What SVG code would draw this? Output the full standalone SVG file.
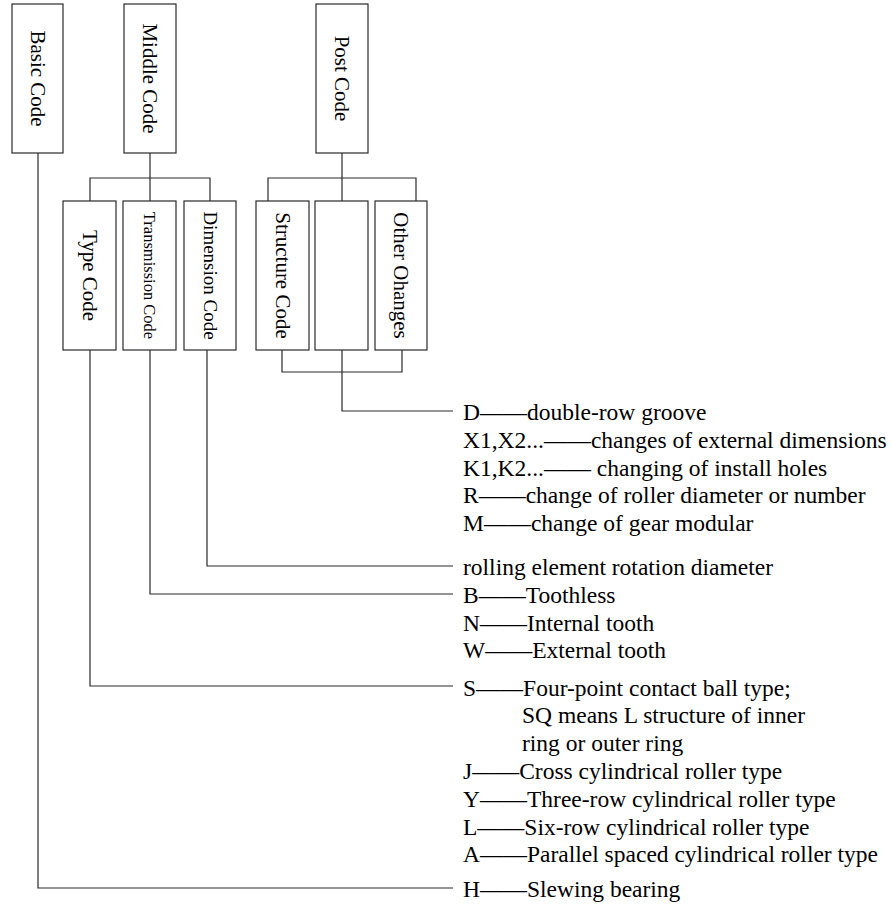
<svg xmlns="http://www.w3.org/2000/svg" width="892" height="904" viewBox="0 0 892 904">
<style>
.box{fill:#fff;stroke:#2a2a2a;stroke-width:1.2}
.ln{fill:none;stroke:#2a2a2a;stroke-width:1.2}
.bl{font-family:"Liberation Serif","Times New Roman",serif;font-size:21px;fill:#000;text-anchor:middle}
.tx{font-family:"Liberation Serif","Times New Roman",serif;font-size:23.5px;fill:#000}
</style>
<rect width="892" height="904" fill="#fff"/>
<g id="connectors">
<path class="ln" d="M38 153V888H453"/>
<path class="ln" d="M150 153V201M90 201V178H210V201"/>
<path class="ln" d="M342 153V201M268 201V178H416V201"/>
<path class="ln" d="M282 350V372H402V350"/>
<path class="ln" d="M342 350V411H453"/>
<path class="ln" d="M207 350V566H453"/>
<path class="ln" d="M150 350V594H453"/>
<path class="ln" d="M90 350V686H453"/>
</g>
<g id="basic-code"><rect class="box" x="12" y="4" width="51" height="149"/><text class="bl" transform="translate(37.5 78.5) rotate(90)" y="7">Basic Code</text></g>
<g id="middle-code"><rect class="box" x="124" y="4" width="52" height="149"/><text class="bl" transform="translate(150 78.5) rotate(90)" y="7">Middle Code</text></g>
<g id="post-code"><rect class="box" x="316" y="4" width="52" height="149"/><text class="bl" transform="translate(342 78.5) rotate(90)" y="7">Post Code</text></g>
<g id="type-code"><rect class="box" x="63" y="201" width="53" height="149"/><text class="bl" transform="translate(89.5 275.5) rotate(90)" y="7">Type Code</text></g>
<g id="transmission-code"><rect class="box" x="123" y="201" width="53" height="149"/><text class="bl" style="font-size:16.5px" transform="translate(149.5 275.5) rotate(90)" y="5.5">Transmission Code</text></g>
<g id="dimension-code"><rect class="box" x="184" y="201" width="52" height="149"/><text class="bl" style="font-size:19px" transform="translate(210 275.5) rotate(90)" y="6.5">Dimension Code</text></g>
<g id="structure-code"><rect class="box" x="256" y="201" width="53" height="149"/><text class="bl" transform="translate(282.5 275.5) rotate(90)" y="7">Structure Code</text></g>
<g id="blank-code"><rect class="box" x="315" y="201" width="53" height="149"/></g>
<g id="other-changes"><rect class="box" x="375" y="201" width="52" height="149"/><text class="bl" transform="translate(401 275.5) rotate(90)" y="7">Other Ohanges</text></g>
<g id="post-list" class="tx">
<text x="463" y="420">D——double-row groove</text>
<text x="463" y="447.8">X1,X2...——changes of external dimensions</text>
<text x="463" y="475.6">K1,K2...—— changing of install holes</text>
<text x="463" y="503.4">R——change of roller diameter or number</text>
<text x="463" y="531.2">M——change of gear modular</text>
</g>
<g id="dimension-list" class="tx"><text x="463" y="575">rolling element rotation diameter</text></g>
<g id="transmission-list" class="tx">
<text x="463" y="603">B——Toothless</text>
<text x="463" y="630.7">N——Internal tooth</text>
<text x="463" y="658.4">W——External tooth</text>
</g>
<g id="type-list" class="tx">
<text x="463" y="695.5">S——Four-point contact ball type;</text>
<text x="522" y="723.3">SQ means L structure of inner</text>
<text x="522" y="751">ring or outer ring</text>
<text x="463" y="779">J——Cross cylindrical roller type</text>
<text x="463" y="806.7">Y——Three-row cylindrical roller type</text>
<text x="463" y="834.5">L——Six-row cylindrical roller type</text>
<text x="463" y="862.3">A——Parallel spaced cylindrical roller type</text>
</g>
<g id="basic-list" class="tx"><text x="463" y="897">H——Slewing bearing</text></g>
</svg>
